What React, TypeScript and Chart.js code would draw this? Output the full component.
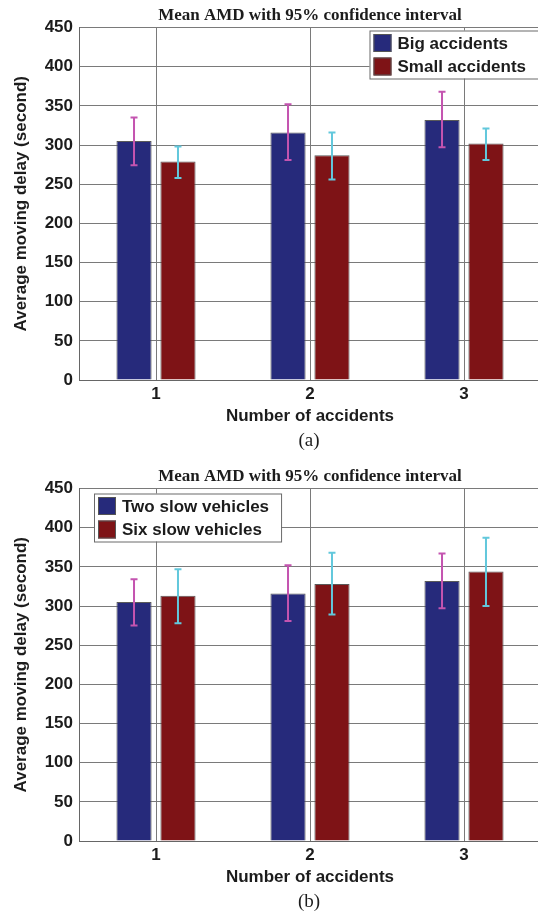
import React, { useEffect, useRef } from "react";
import { Chart, registerables } from "chart.js";

Chart.register(...registerables);

const categories = ["1", "2", "3"];
const chartTitle = "Mean AMD with 95% confidence interval";
const xTitle = "Number of accidents";
const yTitle = "Average moving delay (second)";
const yTicks = [0, 50, 100, 150, 200, 250, 300, 350, 400, 450];

// (a)
const bigLabel = "Big accidents";
const bigMean = [305, 316, 332];
const bigLow = [274, 281, 297];
const bigHigh = [335, 352, 368];
const smallLabel = "Small accidents";
const smallMean = [279, 287, 302];
const smallLow = [258, 256, 281];
const smallHigh = [298, 316, 321];

// (b)
const twoLabel = "Two slow vehicles";
const twoMean = [305, 316, 332];
const twoLow = [275, 281, 297];
const twoHigh = [334, 352, 367];
const sixLabel = "Six slow vehicles";
const sixMean = [313, 328, 344];
const sixLow = [278, 289, 300];
const sixHigh = [347, 368, 387];

const BLUE = "#262a7b";
const RED = "#7e1316";
const MAGENTA = "#c454b0";
const CYAN = "#62c8dc";
const TEXT = "#1c1c1c";
const SANS = "'Liberation Sans', Arial, sans-serif";
const SERIF = "'Liberation Serif', 'Times New Roman', serif";

type Series = { label: string; mean: number[]; low: number[]; high: number[]; color: string; err: string };

function makeConfig(series: Series[], legendSide: "left" | "right"): any {
  const errorBars = {
    id: "errorBars",
    afterDatasetsDraw(chart: any) {
      const ctx = chart.ctx;
      const y = chart.scales.y;
      series.forEach((s, i) => {
        const meta = chart.getDatasetMeta(i);
        meta.data.forEach((el: any, j: number) => {
          const x = el.x;
          const yt = y.getPixelForValue(s.high[j]);
          const yb = y.getPixelForValue(s.low[j]);
          ctx.save();
          ctx.strokeStyle = s.err;
          ctx.lineWidth = 2;
          ctx.beginPath();
          ctx.moveTo(x, yt);
          ctx.lineTo(x, yb);
          ctx.moveTo(x - 3.5, yt);
          ctx.lineTo(x + 3.5, yt);
          ctx.moveTo(x - 3.5, yb);
          ctx.lineTo(x + 3.5, yb);
          ctx.stroke();
          ctx.restore();
        });
      });
    },
  };

  const titleAndLegend = {
    id: "titleAndLegend",
    afterDraw(chart: any) {
      const ctx = chart.ctx;
      const area = chart.chartArea;
      ctx.save();
      // title
      ctx.font = `bold 17px ${SERIF}`;
      ctx.fillStyle = TEXT;
      ctx.textAlign = "center";
      ctx.textBaseline = "middle";
      ctx.fillText(chartTitle, (area.left + area.right) / 2, 15.5);
      // legend
      ctx.font = `bold 17px ${SANS}`;
      const widths = series.map((s) => ctx.measureText(s.label).width);
      const w = 28 + Math.max(...widths) + 12;
      const h = 48;
      const bx = legendSide === "right" ? area.right - 3 - w : area.left + 15;
      const by = area.top + (legendSide === "right" ? 3 : 5);
      ctx.fillStyle = "#ffffff";
      ctx.fillRect(bx, by, w, h);
      ctx.strokeStyle = "#6a6a6a";
      ctx.lineWidth = 1;
      ctx.strokeRect(bx + 0.5, by + 0.5, w, h);
      series.forEach((s, i) => {
        const cy = by + 12.5 + i * 23.5;
        ctx.fillStyle = s.color;
        ctx.fillRect(bx + 4, cy - 9, 18, 18);
        ctx.strokeStyle = "#555";
        ctx.strokeRect(bx + 4.5, cy - 8.5, 17, 17);
        ctx.fillStyle = TEXT;
        ctx.textAlign = "left";
        ctx.textBaseline = "middle";
        ctx.fillText(s.label, bx + 28, cy + 1);
      });
      ctx.restore();
    },
  };

  return {
    type: "bar",
    data: {
      labels: categories,
      datasets: series.map((s) => ({
        label: s.label,
        data: s.mean,
        backgroundColor: s.color,
        borderColor: "#5a5a5a",
        borderWidth: 1,
        categoryPercentage: 0.571,
        barPercentage: 0.8,
      })),
    },
    options: {
      responsive: false,
      animation: false,
      devicePixelRatio: 1,
      layout: { padding: { top: 27.5, left: 0, right: 0, bottom: 0 } },
      plugins: {
        legend: { display: false },
        title: { display: false },
        tooltip: { enabled: false },
      },
      scales: {
        x: {
          type: "category",
          offset: true,
          grid: { offset: false, color: "#7a7a7a", lineWidth: 1, drawTicks: false },
          border: { color: "#666", width: 1 },
          ticks: { font: { family: SANS, size: 17, weight: "bold" }, color: TEXT, padding: 4 },
          title: {
            display: true,
            text: xTitle,
            font: { family: SANS, size: 17, weight: "bold" },
            color: TEXT,
            padding: { top: 0, bottom: 5.8 },
          },
          afterFit(scale: any) {
            scale.height = 52;
          },
        },
        y: {
          min: 0,
          max: 450,
          afterBuildTicks(scale: any) {
            scale.ticks = yTicks.map((v) => ({ value: v }));
          },
          grid: { color: "#7a7a7a", lineWidth: 1, drawTicks: false },
          border: { color: "#666", width: 1 },
          ticks: { font: { family: SANS, size: 17, weight: "bold" }, color: TEXT, padding: 6 },
          title: {
            display: true,
            text: yTitle,
            font: { family: SANS, size: 17, weight: "bold" },
            color: TEXT,
            padding: { top: 11.5, bottom: 0 },
          },
          afterFit(scale: any) {
            scale.width = 79;
          },
        },
      },
    },
    plugins: [errorBars, titleAndLegend],
  };
}

function BarChart({ series, legendSide, top }: { series: Series[]; legendSide: "left" | "right"; top: number }) {
  const ref = useRef<HTMLCanvasElement | null>(null);
  useEffect(() => {
    if (!ref.current) return;
    const chart = new Chart(ref.current, makeConfig(series, legendSide));
    return () => chart.destroy();
  }, []);
  return (
    <canvas
      ref={ref}
      width={541}
      height={432}
      style={{ position: "absolute", left: 0, top, width: 541, height: 432 }}
    />
  );
}

const seriesA: Series[] = [
  { label: bigLabel, mean: bigMean, low: bigLow, high: bigHigh, color: BLUE, err: MAGENTA },
  { label: smallLabel, mean: smallMean, low: smallLow, high: smallHigh, color: RED, err: CYAN },
];
const seriesB: Series[] = [
  { label: twoLabel, mean: twoMean, low: twoLow, high: twoHigh, color: BLUE, err: MAGENTA },
  { label: sixLabel, mean: sixMean, low: sixLow, high: sixHigh, color: RED, err: CYAN },
];

const captionStyle = (top: number): React.CSSProperties => ({
  position: "absolute",
  left: 259,
  width: 100,
  top,
  height: 24,
  lineHeight: "24px",
  textAlign: "center",
  fontFamily: SERIF,
  fontSize: 19,
  color: TEXT,
});

export default function App() {
  return (
    <div
      style={{
        position: "absolute",
        left: 0,
        top: 0,
        width: 538,
        height: 915,
        overflow: "hidden",
        background: "#fff",
      }}
    >
      <BarChart series={seriesA} legendSide="right" top={0} />
      <div style={captionStyle(428)}>(a)</div>
      <BarChart series={seriesB} legendSide="left" top={461} />
      <div style={captionStyle(889)}>(b)</div>
    </div>
  );
}
